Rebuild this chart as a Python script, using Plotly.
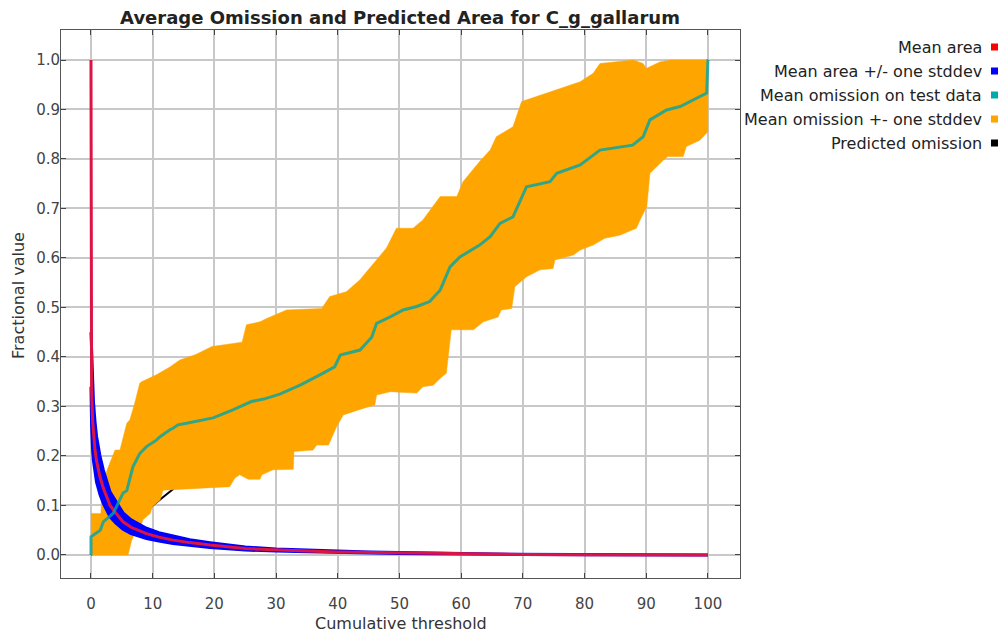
import plotly.graph_objects as go

# ---------------- data ----------------
# Mean area (red)
area_x = [0, 0.02, 0.1, 0.27, 0.4, 0.65, 0.9, 1.46, 2, 3.1, 4, 5.2, 6.5, 9, 11, 13.3, 16, 19.3,
          25, 30, 35, 40, 45, 50, 55, 60, 70, 80, 90, 100]
area_mean = [1.0, 0.38, 0.33, 0.27, 0.245, 0.212, 0.19, 0.158, 0.135, 0.1, 0.085, 0.067, 0.056,
             0.043, 0.036, 0.03, 0.025, 0.02, 0.013, 0.01, 0.008, 0.006, 0.005, 0.004, 0.003,
             0.002, 0.001, 0.0005, 0.0002, 0.0]

# Mean area +/- one stddev (blue)
sd_x = [0, 0.1, 0.27, 0.4, 0.65, 0.9, 1.46, 2, 3.1, 4, 5.2, 6.5, 9, 11, 13.3, 16, 19.3, 25, 30,
        35, 40, 45, 50, 55, 60, 70, 80, 90, 100]
area_upper = [0.45, 0.40, 0.34, 0.31, 0.27, 0.24, 0.20, 0.172, 0.127, 0.108, 0.085, 0.071,
              0.054, 0.045, 0.038, 0.031, 0.025, 0.016, 0.012, 0.0095, 0.0072, 0.006, 0.0048,
              0.0036, 0.0024, 0.0012, 0.0006, 0.0002, 0.0]
area_lower = [0.34, 0.26, 0.21, 0.19, 0.165, 0.147, 0.122, 0.104, 0.077, 0.065, 0.052, 0.043,
              0.033, 0.028, 0.023, 0.019, 0.015, 0.01, 0.008, 0.0064, 0.0048, 0.004, 0.0032,
              0.0024, 0.0016, 0.0008, 0.0004, 0.0002, 0.0]

# Mean omission on test data (teal)
om_x = [0, 0, 1.5, 2, 3.6, 5.2, 5.8, 6.8, 7.9, 8.4, 9, 10.6, 11.2, 12.8, 13.3, 14.1, 15.5, 19.8,
        23, 26, 28, 30.6, 33.9, 37.1, 39.5, 40.4, 43.6, 45.5, 46.3, 48.5, 50.6, 52.8, 54.9, 56.6,
        58.2, 59.8, 63, 64.7, 66.3, 68.4, 70.6, 74.4, 75.5, 79.3, 82.5, 87.8, 89.5, 90.6, 93.3,
        95.5, 97, 99.8, 100]
om_mean = [0, 0.037, 0.05, 0.067, 0.084, 0.125, 0.13, 0.178, 0.205, 0.212, 0.219, 0.232, 0.239,
           0.253, 0.256, 0.263, 0.266, 0.277, 0.293, 0.31, 0.315, 0.325, 0.343, 0.364, 0.38,
           0.404, 0.414, 0.44, 0.468, 0.481, 0.495, 0.502, 0.512, 0.535, 0.582, 0.602, 0.626,
           0.643, 0.67, 0.683, 0.744, 0.754, 0.771, 0.788, 0.818, 0.828, 0.845, 0.879, 0.899,
           0.906, 0.916, 0.933, 1.0]

# Mean omission +- one stddev (orange band)
up_x = [0, 1.6, 1.7, 2.3, 2.5, 3.9, 4.7, 5.8, 6.3, 7.1, 7.9, 8.2, 10.6, 12.8, 14.4, 17, 19.6,
        24.5, 25.2, 27.4, 28.5, 31.7, 37.4, 38.7, 41.4, 43.6, 45.8, 47.9, 49.5, 52.2, 53.8, 55.2,
        56.6, 59.3, 60.3, 63, 64.7, 65.7, 68.4, 69.8, 72.2, 75.5, 79.3, 81.4, 82.5, 87.9, 89.5,
        90, 92.2, 94, 100]
om_upper = [0.084, 0.084, 0.108, 0.108, 0.168, 0.212, 0.212, 0.266, 0.273, 0.307, 0.347, 0.35,
            0.364, 0.38, 0.394, 0.405, 0.421, 0.43, 0.465, 0.471, 0.478, 0.495, 0.498, 0.522,
            0.532, 0.556, 0.589, 0.62, 0.66, 0.66, 0.677, 0.70, 0.724, 0.724, 0.754, 0.795,
            0.818, 0.845, 0.865, 0.916, 0.926, 0.939, 0.956, 0.973, 0.993, 1.0, 0.993, 0.983,
            0.996, 1.0, 1.0]
lo_x = [0, 6.0, 6.6, 7.1, 7.9, 8.4, 9.6, 10.0, 11.2, 11.7, 22.5, 23.3, 24.1, 25.5, 27.4, 27.7,
        29.5, 32.8, 32.9, 36, 36.6, 38.5, 39.8, 40.9, 44.1, 46, 46.3, 48.5, 52.8, 53.8, 55.5,
        56.6, 57.6, 58.4, 62, 63.6, 66, 66.5, 68.2, 68.7, 70.6, 72.8, 74.9, 75.2, 78.2, 79.3,
        81.4, 83.3, 85.7, 88.4, 89, 90.1, 90.6, 92.8, 93.5, 96, 96.5, 98.7, 100]
om_lower = [0, 0, 0.03, 0.044, 0.05, 0.071, 0.084, 0.098, 0.111, 0.131, 0.138, 0.155, 0.162,
            0.153, 0.153, 0.162, 0.172, 0.173, 0.209, 0.212, 0.222, 0.222, 0.259, 0.283, 0.296,
            0.303, 0.323, 0.33, 0.327, 0.34, 0.343, 0.357, 0.367, 0.455, 0.455, 0.471, 0.481,
            0.495, 0.498, 0.542, 0.562, 0.576, 0.579, 0.596, 0.606, 0.616, 0.626, 0.64, 0.646,
            0.66, 0.677, 0.704, 0.771, 0.798, 0.805, 0.805, 0.825, 0.838, 0.855]

# Predicted omission (black)
pred_x = [0, 100]
pred_y = [0, 1]

x_ticks = [0, 10, 20, 30, 40, 50, 60, 70, 80, 90, 100]
y_ticks = [0.0, 0.1, 0.2, 0.3, 0.4, 0.5, 0.6, 0.7, 0.8, 0.9, 1.0]

legend_labels = ["Mean area", "Mean area +/- one stddev", "Mean omission on test data",
                 "Mean omission +- one stddev", "Predicted omission"]
legend_colors = ["#ff0000", "#0000ff", "#00aaaa", "#ffa500", "#000000"]

FONT = "DejaVu Sans, Liberation Sans, Arial, sans-serif"

# ---------------- figure ----------------
fig = go.Figure()

fig.add_trace(go.Scatter(x=pred_x, y=pred_y, mode="lines",
                         line=dict(color="black", width=2), hoverinfo="skip"))

fig.add_trace(go.Scatter(x=up_x + lo_x[::-1], y=om_upper + om_lower[::-1], mode="lines",
                         fill="toself", fillcolor="#ffa500",
                         line=dict(color="#ffa500", width=0.5), hoverinfo="skip"))

fig.add_trace(go.Scatter(x=sd_x + sd_x[::-1], y=area_upper + area_lower[::-1], mode="lines",
                         fill="toself", fillcolor="#0000ff",
                         line=dict(color="#0000ff", width=3), hoverinfo="skip"))

fig.add_trace(go.Scatter(x=area_x, y=area_mean, mode="lines",
                         line=dict(color="#dc1446", width=3), hoverinfo="skip"))

fig.add_trace(go.Scatter(x=om_x, y=om_mean, mode="lines",
                         line=dict(color="rgba(0,165,165,0.8)", width=3), hoverinfo="skip"))

plot_l, plot_r, plot_t, plot_b = 61, 740, 30, 578
pw, ph = plot_r - plot_l, plot_b - plot_t

ann = []
shapes = []
row_px = [47, 71, 95, 119, 143]
for lab, col, py in zip(legend_labels, legend_colors, row_px):
    yp = (plot_b - py) / ph
    ann.append(dict(text=lab, xref="paper", yref="paper", x=(984 - plot_l) / pw, y=yp,
                    xanchor="right", yanchor="middle", showarrow=False,
                    font=dict(family=FONT, size=16, color="#222222")))
    shapes.append(dict(type="rect", xref="paper", yref="paper",
                       x0=(991 - plot_l) / pw, x1=(998 - plot_l) / pw,
                       y0=yp - 3.5 / ph, y1=yp + 3.5 / ph,
                       fillcolor=col, line=dict(width=0)))

# axis titles
ann.append(dict(text="Cumulative threshold", xref="paper", yref="paper",
                x=0.5, y=(plot_b - 623) / ph, xanchor="center", yanchor="middle",
                showarrow=False, font=dict(family=FONT, size=16, color="#333333")))
ann.append(dict(text="Fractional value", xref="paper", yref="paper",
                x=(18 - plot_l) / pw, y=(plot_b - 296) / ph, xanchor="center", yanchor="middle",
                textangle=-90, showarrow=False, font=dict(family=FONT, size=16, color="#333333")))

fig.update_layout(
    width=1000, height=633,
    margin=dict(l=plot_l, r=1000 - plot_r, t=plot_t, b=633 - plot_b),
    paper_bgcolor="white", plot_bgcolor="white",
    showlegend=False,
    title=dict(text="<b>Average Omission and Predicted Area for C_g_gallarum</b>",
               x=0.4, xanchor="center", y=1 - 18 / 633, yanchor="middle",
               font=dict(family=FONT, size=18, color="#222222")),
    annotations=ann, shapes=shapes,
)
fig.update_xaxes(range=[-4.86, 105.2], tickvals=x_ticks, ticktext=[str(v) for v in x_ticks],
                 showgrid=True, gridcolor="#c8c8c8", gridwidth=1.5, zeroline=False,
                 showline=True, linecolor="#555555", linewidth=1, mirror="allticks",
                 ticks="inside", ticklen=5, tickcolor="#444444", ticklabelstandoff=12,
                 tickfont=dict(family=FONT, size=15, color="#444444"))
fig.update_yaxes(range=[-0.0465, 1.0606], tickvals=y_ticks, ticktext=[f"{v:.1f}" for v in y_ticks],
                 showgrid=True, gridcolor="#c8c8c8", gridwidth=1.5, zeroline=False,
                 showline=True, linecolor="#555555", linewidth=1, mirror="allticks",
                 ticks="inside", ticklen=5, tickcolor="#444444", ticklabelstandoff=-3,
                 tickfont=dict(family=FONT, size=15, color="#444444"))

fig.write_html("out.html")
